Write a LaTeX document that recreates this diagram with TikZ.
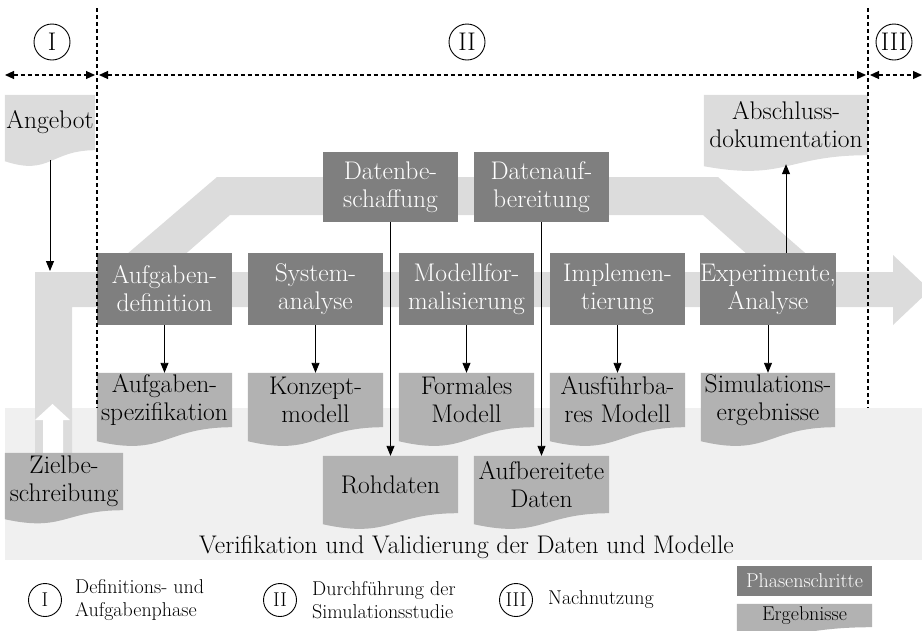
\documentclass[tikz,border=0pt]{standalone}
\usepackage{fontspec}
\usetikzlibrary{arrows.meta,calc,backgrounds}
\definecolor{vvband}{RGB}{240,240,240}
\definecolor{flowgray}{RGB}{220,220,220}
\definecolor{phasegray}{RGB}{127,127,127}
\definecolor{resultgray}{RGB}{178,178,178}
\definecolor{inputgray}{RGB}{220,220,220}

\begin{document}
\begin{tikzpicture}[x=1pt,y=-1pt,
  bigfont/.style={font=\fontsize{25.5}{28}\selectfont},
  smallfont/.style={font=\fontsize{20}{23}\selectfont},
  stepbox/.style={bigfont, fill=phasegray, text=white, align=center,
    inner sep=0pt, minimum width=135pt, minimum height=72pt},
  docbox/.style={bigfont, text=black, align=center, inner sep=0pt,
    minimum width=135pt},
  flowto/.style={-{Triangle[length=10pt,width=8pt]}, line width=0.9pt},
  phaseline/.style={line width=1.1pt, dash pattern=on 4pt off 3pt},
  phasespan/.style={{Triangle[length=9pt,width=8pt]}-{Triangle[length=9pt,width=8pt]}, phaseline},
  phasemark/.style={circle, draw, line width=0.9pt, minimum size=36pt,
    inner sep=0pt, bigfont},
]
\useasboundingbox (0,0) rectangle (922,630);

% phase markers and their extents
\node[phasemark] (c1) at (52,42) {I};
\node[phasemark] (c2) at (467,42) {II};
\node[phasemark] (c3) at (894,42) {III};
\coordinate (s1a) at (5,75);   \coordinate (s1b) at (95,75);
\coordinate (s2a) at (99,75);  \coordinate (s2b) at (866,75);
\coordinate (s3a) at (870,75); \coordinate (s3b) at (922,75);
\coordinate (d1top) at (97,8);  \coordinate (d1bot) at (97,408);
\coordinate (d2top) at (868,8); \coordinate (d2bot) at (868,408);

% phase steps
\node[stepbox] (def)  at (164.5,289) {Aufgaben-\\definition};
\node[stepbox] (sys)  at (315.5,289) {System-\\analyse};
\node[stepbox] (form) at (466.5,289) {Modellfor-\\malisierung};
\node[stepbox] (impl) at (617.5,289) {Implemen-\\tierung};
\node[stepbox, minimum width=134pt] (exp) at (768,289) {Experimente,\\Analyse};
\node[stepbox, minimum height=70pt] (besch) at (390.5,187) {Datenbe-\\schaffung};
\node[stepbox, minimum height=70pt] (aufb)  at (541.5,187) {Datenauf-\\bereitung};

% results and documents
\node[docbox, minimum height=54pt] (spec)   at (164.5,400) {Aufgaben-\\spezifikation};
\node[docbox, minimum height=54pt] (konz)   at (315.5,400) {Konzept-\\modell};
\node[docbox, minimum height=54pt] (fmod)   at (466.5,400) {Formales\\Modell};
\node[docbox, minimum height=54pt] (amod)   at (617.5,400) {Ausführba-\\res Modell};
\node[docbox, minimum height=54pt, minimum width=134pt] (simerg) at (768,400) {Simulations-\\ergebnisse};
\node[docbox, minimum height=57pt] (roh)    at (390.5,484.5) {Rohdaten};
\node[docbox, minimum height=57pt] (aufd)   at (541.5,484.5) {Aufbereitete\\Daten};
\node[docbox, minimum height=57pt, minimum width=118pt] (ziel) at (64,481.5) {Zielbe-\\schreibung};
\node[docbox, minimum height=55pt, minimum width=90pt] (ang) at (50,122.5) {Angebot};
\node[docbox, minimum height=60pt, minimum width=164pt] (abs) at (786,125) {Abschluss-\\dokumentation};
\coordinate (bandin) at (50,271);

\node[bigfont, anchor=base] (verif) at (466.5,553) {Verifikation und Validierung der Daten und Modelle};

% legend
\node[phasemark, smallfont, minimum size=33pt] (lg1) at (45,600) {I};
\node[smallfont, anchor=west, align=left, inner sep=0pt] (lg1t) at (75,600) {Definitions- und\\Aufgabenphase};
\node[phasemark, smallfont, minimum size=33pt] (lg2) at (280,600) {II};
\node[smallfont, anchor=west, align=left, inner sep=0pt] (lg2t) at (312,600) {Durchführung der\\Simulationsstudie};
\node[phasemark, smallfont, minimum size=33pt] (lg3) at (516,600) {III};
\node[smallfont, anchor=west, align=left, inner sep=0pt] (lg3t) at (548,600) {Nachnutzung};
\node[stepbox, smallfont, minimum height=30pt] (lgstep) at (804.5,581) {Phasenschritte};
\node[docbox, smallfont, minimum height=23pt] (lgres) at (804.5,615.5) {Ergebnisse};

% connectors
\draw[flowto, shorten <=10pt] (ang.south) -- (bandin);
\draw[flowto] (def.south) -- (spec.north);
\draw[flowto] (sys.south) -- (konz.north);
\draw[flowto] (form.south) -- (fmod.north);
\draw[flowto] (impl.south) -- (amod.north);
\draw[flowto] (exp.south) -- (simerg.north);
\draw[flowto] (besch.south) -- (roh.north);
\draw[flowto] (aufb.south) -- (aufd.north);
\draw[flowto, shorten >=9pt] (exp.north -| abs.south) -- (abs.south);

% phase boundaries
\draw[phaseline] (d1top) -- (d1bot);
\draw[phaseline] (d2top) -- (d2bot);
\draw[phasespan] (s1a) -- (s1b);
\draw[phasespan] (s2a) -- (s2b);
\draw[phasespan] (s3a) -- (s3b);

\begin{scope}[on background layer]
  \clip (0,0) rectangle (922,630);
  % verification band
  \fill[vvband] (5,408) rectangle (922,560);
  % main process flow
  \fill[flowgray] (35,455) -- (35,272) -- (893,272) -- (893,255) -- (930,290)
    -- (893,325) -- (893,307) -- (72,307) -- (72,455) -- cycle;
  % data branch
  \fill[flowgray] (106,272) -- (217,177) -- (718,177) -- (827,272) -- (767,272)
    -- (703,215) -- (230,215) -- (165,272) -- cycle;
  % goal feeds the process
  \fill[white] (43,453) -- (43,420) -- (35,420) -- (52.5,404) -- (70,420)
    -- (63,420) -- (63,453) -- cycle;
  % document shapes with wavy lower edge
  \foreach \n/\col/\d/\c in {ang/inputgray/11/26, abs/inputgray/11/26,
      spec/resultgray/14/30, konz/resultgray/14/30, fmod/resultgray/14/30,
      amod/resultgray/14/30, simerg/resultgray/14/30,
      roh/resultgray/11/26, aufd/resultgray/11/26, ziel/resultgray/9/22,
      lgres/resultgray/5/12} {
    \fill[\col] (\n.north west) -- (\n.north east) -- (\n.south east)
      .. controls (\n.south) and ($(\n.south)+(0,\c)$) .. ($(\n.south west)+(0,\d)$)
      -- cycle;
  }
\end{scope}
\end{tikzpicture}
\end{document}
